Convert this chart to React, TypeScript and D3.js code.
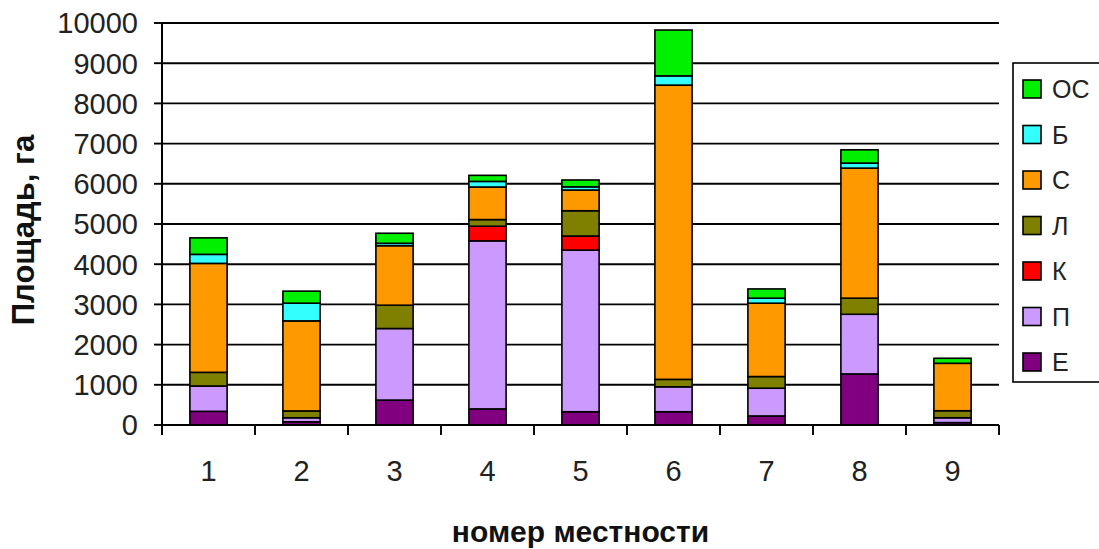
import React from "react";
import * as d3 from "d3";

const categories = ["1", "2", "3", "4", "5", "6", "7", "8", "9"];
const seriesNames = ["Е", "П", "К", "Л", "С", "Б", "ОС"];
const E = [340, 80, 620, 400, 330, 330, 225, 1270, 60];
const P = [630, 100, 1780, 4180, 4020, 620, 690, 1485, 120];
const K = [0, 0, 0, 365, 350, 0, 0, 0, 0];
const L = [340, 170, 580, 165, 630, 185, 290, 400, 175];
const S = [2710, 2240, 1480, 810, 515, 7320, 1825, 3235, 1180];
const B = [225, 440, 60, 140, 80, 230, 125, 125, 0];
const OS = [410, 300, 250, 150, 170, 1140, 230, 330, 125];
const yTicks = [0, 1000, 2000, 3000, 4000, 5000, 6000, 7000, 8000, 9000, 10000];
const colors = ["#800080", "#CC99FF", "#FF0000", "#808000", "#FF9900", "#33FFFF", "#00F000"];

const seriesValues = [E, P, K, L, S, B, OS];

export default function App() {
  const W = 1099, H = 549;
  const left = 162, right = 999, top = 23, bottom = 425;
  const x = d3.scaleBand<string>().domain(categories).range([left, right]).paddingInner(0.6).paddingOuter(0.3);
  const y = d3.scaleLinear().domain([0, 10000]).range([bottom, top]);
  const table = categories.map((c, i) => {
    const o: any = { cat: c };
    seriesNames.forEach((s, j) => (o[s] = seriesValues[j][i]));
    return o;
  });
  const stacked = d3.stack<any>().keys(seriesNames)(table);
  const step = (right - left) / categories.length;
  const font = "'Liberation Sans', Arial, sans-serif";
  const legendTop = 89, legendStep = 45.5;
  const legendOrder = [...seriesNames].reverse();

  return (
    <svg width={W} height={H} style={{ position: "absolute", left: 0, top: 0, background: "#fff" }} fontFamily={font}>
      <rect x={0} y={0} width={W} height={H} fill="#fff" />
      {yTicks.map((t) => (
        <g key={t}>
          {t > 0 && <line x1={left} x2={right} y1={y(t)} y2={y(t)} stroke="#000" strokeWidth={1.9} />}
          <line x1={left - 8} x2={left} y1={y(t)} y2={y(t)} stroke="#000" strokeWidth={1.9} />
          <text x={left - 24} y={y(t)} dy="0.36em" textAnchor="end" fontSize={29} fill="#222">{t}</text>
        </g>
      ))}
      {stacked.map((layer, j) => (
        <g key={layer.key} fill={colors[j]}>
          {layer.map((d, i) =>
            d[1] - d[0] > 0 ? (
              <rect key={i} x={x(categories[i])!} width={x.bandwidth()} y={y(d[1])} height={y(d[0]) - y(d[1])} stroke="#000" strokeWidth={1.6} />
            ) : null
          )}
        </g>
      ))}
      <line x1={left} x2={left} y1={top} y2={bottom + 10} stroke="#000" strokeWidth={2} />
      <line x1={left} x2={right} y1={bottom} y2={bottom} stroke="#000" strokeWidth={2} />
      {d3.range(categories.length + 1).map((i) => (
        <line key={i} x1={left + i * step} x2={left + i * step} y1={bottom} y2={bottom + 10} stroke="#000" strokeWidth={1.9} />
      ))}
      {categories.map((c) => (
        <text key={c} x={x(c)! + x.bandwidth() / 2} y={471} dy="0.36em" textAnchor="middle" fontSize={29} fill="#222">{c}</text>
      ))}
      <text x={(left + right) / 2} y={531} dy="0.36em" textAnchor="middle" fontSize={30} fontWeight="bold" fill="#111">номер местности</text>
      <text transform={`translate(23,${(top + bottom) / 2 + 6}) rotate(-90)`} dy="0.36em" textAnchor="middle" fontSize={31} fontWeight="bold" fill="#111">Площадь, га</text>
      <rect x={1013} y={63} width={120} height={319} fill="#fff" stroke="#000" strokeWidth={1.6} />
      {legendOrder.map((s, i) => {
        const j = seriesNames.indexOf(s);
        const cy = legendTop + i * legendStep;
        return (
          <g key={s}>
            <rect x={1023} y={cy - 9} width={18} height={18} fill={colors[j]} stroke="#000" strokeWidth={1.6} />
            <text x={1052} y={cy} dy="0.36em" fontSize={25} fill="#222">{s}</text>
          </g>
        );
      })}
    </svg>
  );
}
